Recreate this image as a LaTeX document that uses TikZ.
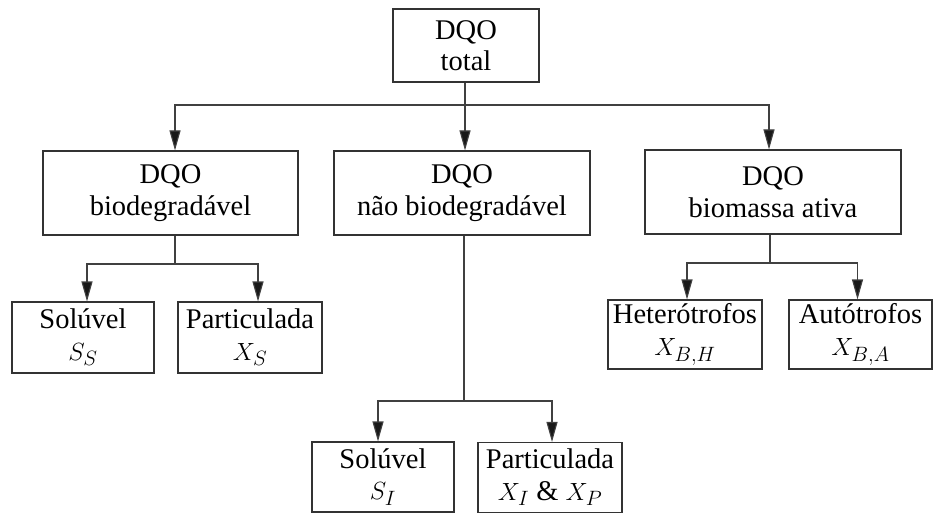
\documentclass[tikz,border=0pt]{standalone}
\usepackage{fontspec}
\setmainfont{Liberation Serif}
\usetikzlibrary{arrows.meta}
\begin{document}
\begin{tikzpicture}[x=1pt,y=-1pt,
  box/.style={draw=black!80,line width=1.1pt,inner sep=0pt,align=center,
    font=\fontsize{28.5}{31.5}\selectfont},
  arr/.style={draw=black!75,line width=1.1pt,-{Triangle[length=20pt,width=11pt,fill=black!90]}},
  ln/.style={draw=black!75,line width=1.1pt}]
\useasboundingbox (0,0) rectangle (933,513);
\node[box,minimum width=146pt,minimum height=73pt] (top) at (466,45.5) {DQO\\total};
\node[box,minimum width=255pt,minimum height=84pt] (bio) at (170.5,193) {DQO\\biodegradável};
\node[box,minimum width=256pt,minimum height=84pt] (nbio) at (462,193) {DQO\\não biodegradável};
\node[box,minimum width=256pt,minimum height=84pt] (bm) at (773,192) {DQO\\biomassa ativa};
\node[box,minimum width=142pt,minimum height=71pt] (ss) at (83,337.5) {Solúvel\\$S_S$};
\node[box,minimum width=144pt,minimum height=71pt] (xs) at (250,337.5) {Particulada\\$X_S$};
\node[box,minimum width=142pt,minimum height=70pt] (si) at (383,477) {Solúvel\\$S_I$};
\node[box,minimum width=144pt,minimum height=70pt] (xip) at (550,477.5) {Particulada\\$X_I$ \& $X_P$};
\node[box,minimum width=154pt,minimum height=69pt] (xbh) at (685,334.5) {Heterótrofos\\$X_{B,H}$};
\node[box,minimum width=143pt,minimum height=69pt] (xba) at (860.5,334.5) {Autótrofos\\$X_{B,A}$};
% junctions
\coordinate (j0) at (465,105);
\coordinate (j1) at (175,264);
\coordinate (j2) at (464,401);
\coordinate (j3) at (770,263);
% level 1
\draw[ln] ([xshift=-1pt]top.south) -- (j0);
\draw[arr] (j0) -| ([xshift=4.5pt]bio.north);
\draw[arr] (j0) -- (j0 |- nbio.north);
\draw[arr] (j0) -| ([xshift=-4pt]bm.north);
% biodegradavel
\draw[ln] ([xshift=4.5pt]bio.south) -- (j1);
\draw[arr] (j1) -| ([xshift=4pt]ss.north);
\draw[arr] (j1) -| ([xshift=8pt]xs.north);
% nao biodegradavel
\draw[ln] ([xshift=2pt]nbio.south) -- (j2);
\draw[arr] (j2) -| ([xshift=-5pt]si.north);
\draw[arr] (j2) -| ([xshift=2pt]xip.north);
% biomassa
\draw[ln] ([xshift=-3pt]bm.south) -- (j3);
\draw[arr] (j3) -| ([xshift=2pt]xbh.north);
\draw[arr] (j3) -| ([xshift=-3pt]xba.north);
\end{tikzpicture}
\end{document}
